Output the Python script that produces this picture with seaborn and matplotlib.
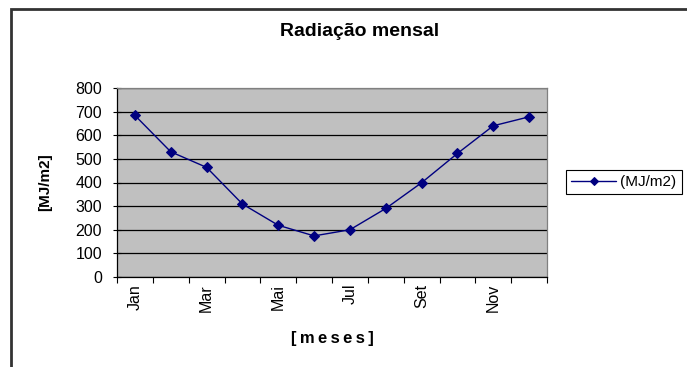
import numpy as np
import pandas as pd
import matplotlib
matplotlib.use("Agg")
import matplotlib.pyplot as plt
import matplotlib.patches as mpatches
import seaborn as sns

months = ["Jan", "Fev", "Mar", "Abr", "Mai", "Jun", "Jul", "Ago", "Set", "Out", "Nov", "Dez"]
radiation = [684, 530, 464, 309, 219, 174, 200, 290, 399, 523, 640, 678]
series_name = "(MJ/m2)"
yticks = [0, 100, 200, 300, 400, 500, 600, 700, 800]

df = pd.DataFrame({"mes": np.arange(len(months)), "rad": radiation, "serie": series_name})

sns.set_style("white")
plt.rcParams["font.family"] = ["Liberation Sans", "DejaVu Sans"]
plt.rcParams["text.color"] = "black"
plt.rcParams["axes.labelcolor"] = "black"
plt.rcParams["xtick.color"] = "black"
plt.rcParams["ytick.color"] = "black"

fig = plt.figure(figsize=(6.87, 3.67), dpi=100)
W, H = 687, 367
x0, x1, y_top, y_bot = 117, 547, 88, 277
ax = fig.add_axes([x0 / W, 1 - y_bot / H, (x1 - x0) / W, (y_bot - y_top) / H])
ax.set_facecolor("#c0c0c0")

sns.lineplot(data=df, x="mes", y="rad", hue="serie", palette=["#000080"],
             marker="D", markersize=5, markeredgecolor="#000080",
             linewidth=1.0, ax=ax, legend=True)

ax.set_ylim(0, 800)
ax.set_yticks(yticks)
ax.set_yticklabels([str(v) for v in yticks], fontsize=11.5)
ax.yaxis.grid(True, color="black", linewidth=0.9)
ax.set_axisbelow(True)

ax.set_xlim(-0.5, len(months) - 0.5)
ax.set_xticks(np.arange(-0.5, len(months), 1.0))
ax.set_xticklabels([])
ax.set_xticks(np.arange(0, len(months), 2), minor=True)
ax.set_xticklabels(months[::2], minor=True, rotation=90, fontsize=11.5)
ax.tick_params(axis="x", which="major", direction="out", length=4, width=0.8, bottom=True)
ax.tick_params(axis="x", which="minor", length=0, pad=5)
ax.tick_params(axis="y", direction="inout", length=5.5, width=0.8, left=True, pad=8)

for side in ("left", "bottom"):
    ax.spines[side].set_color("black")
    ax.spines[side].set_linewidth(0.9)
for side in ("top", "right"):
    ax.spines[side].set_color("#808080")
    ax.spines[side].set_linewidth(0.9)

thin = "\u2009"
ax.set_xlabel(thin.join("[meses]"), fontsize=12, fontweight="bold")
ax.xaxis.set_label_coords(0.5, (y_bot - 338) / (y_bot - y_top))
ax.xaxis.label.set_va("center")
ax.set_ylabel("[MJ/m2]", fontsize=11, fontweight="bold")
ax.yaxis.set_label_coords((45 - x0) / (x1 - x0), 0.5)
ax.yaxis.label.set_va("center")

fig.text(360 / W, 1 - 32 / H, "Radiação mensal", ha="center", va="center",
         fontsize=14, fontweight="bold")

handles, labels = ax.get_legend_handles_labels()
leg = ax.legend(handles, labels, loc="center left", bbox_to_anchor=(566 / W, 1 - 182 / H),
                bbox_transform=fig.transFigure, frameon=True, fancybox=False,
                edgecolor="black", framealpha=1, fontsize=11, borderpad=0.35,
                handlelength=2.9, handletextpad=0.3, borderaxespad=0, markerscale=0.75)
leg.get_frame().set_linewidth(0.8)

border = mpatches.Rectangle((11 / W, -0.1), 1.2, 1.1 - 9 / H, transform=fig.transFigure,
                            fill=False, edgecolor="#333333", linewidth=2, clip_on=False)
fig.patches.append(border)

fig.savefig("out.png", dpi=100, facecolor="white")
